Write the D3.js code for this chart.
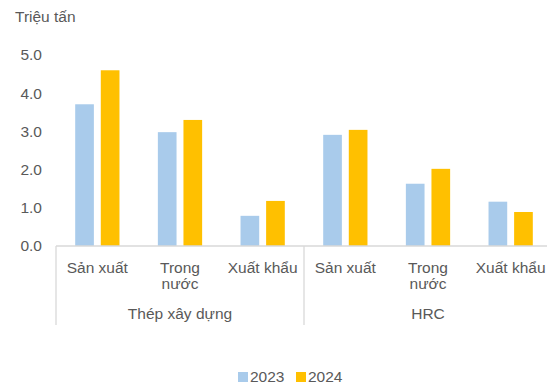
<!DOCTYPE html>
<html>
<head>
<meta charset="utf-8">
<script src="https://cdn.jsdelivr.net/npm/d3@7"></script>
<style>
  body { margin: 0; background: #fff; }
  text { font-family: "Liberation Sans", Arial, sans-serif; fill: #595959; }
</style>
</head>
<body>
<div id="chart"></div>
<script>
// --- Data ---
const groups = ["Thép xây dựng", "HRC"];
const categories = ["Sản xuất", "Trong nước", "Xuất khẩu"];
const series = ["2023", "2024"];
const values2023 = [3.71, 2.98, 0.79, 2.91, 1.63, 1.16];
const values2024 = [4.60, 3.30, 1.18, 3.04, 2.02, 0.89];
const yTicks = [0, 1, 2, 3, 4, 5];

const width = 547, height = 387;
const colors = { "2023": "#A9CBEB", "2024": "#FFC000" };
const fontSize = "15.5px";

const svg = d3.select("#chart").append("svg")
    .attr("width", width)
    .attr("height", height);

// x positions: one band per (group, category)
const keys = [];
groups.forEach((g, gi) => categories.forEach((c, ci) => keys.push(gi * categories.length + ci)));

const x0 = d3.scaleBand().domain(keys).range([56, 552]).paddingInner(0).paddingOuter(0);
const x1 = d3.scaleBand().domain(series).range([0, x0.bandwidth()]).paddingInner(0.27).paddingOuter(0.75);
const y = d3.scaleLinear().domain([0, 5]).range([246, 55]);

// y tick labels (no gridlines)
svg.append("g").selectAll("text")
    .data(yTicks)
    .join("text")
    .attr("x", 42)
    .attr("y", d => y(d))
    .attr("dy", "0.35em")
    .attr("text-anchor", "end")
    .style("font-size", fontSize)
    .text(d => d.toFixed(1));

// axis title
svg.append("text")
    .attr("x", 15)
    .attr("y", 22)
    .style("font-size", fontSize)
    .text("Triệu tấn");

// bars
const rows = keys.map(k => ({ k, vals: [["2023", values2023[k]], ["2024", values2024[k]]] }));
svg.append("g").selectAll("g")
    .data(rows)
    .join("g")
    .attr("transform", d => `translate(${x0(d.k)},0)`)
    .selectAll("rect")
    .data(d => d.vals)
    .join("rect")
    .attr("x", d => x1(d[0]))
    .attr("width", x1.bandwidth())
    .attr("y", d => y(d[1]))
    .attr("height", d => y(0) - y(d[1]))
    .attr("fill", d => colors[d[0]]);

// x axis line
const axisColor = "#d9d9d9";
svg.append("line")
    .attr("x1", x0.range()[0]).attr("x2", x0.range()[1])
    .attr("y1", y(0)).attr("y2", y(0))
    .attr("stroke", axisColor).attr("stroke-width", 1.3);

// group separators
const nCat = categories.length;
const seps = d3.range(groups.length + 1).map(i => i * nCat);
svg.append("g").selectAll("line")
    .data(seps)
    .join("line")
    .attr("x1", i => i < keys.length ? x0(i) : x0.range()[1])
    .attr("x2", i => i < keys.length ? x0(i) : x0.range()[1])
    .attr("y1", y(0)).attr("y2", 325)
    .attr("stroke", axisColor).attr("stroke-width", 1.3);

// category labels (wrapped)
const wrap = { "Trong nước": ["Trong", "nước"] };
const catLabels = svg.append("g").selectAll("text")
    .data(keys)
    .join("text")
    .attr("text-anchor", "middle")
    .attr("x", k => x0(k) + x0.bandwidth() / 2)
    .attr("y", 273)
    .style("font-size", fontSize);
catLabels.each(function (k) {
    const name = categories[k % nCat];
    const lines = wrap[name] || [name];
    const t = d3.select(this);
    lines.forEach((ln, i) => {
        t.append("tspan")
            .attr("x", x0(k) + x0.bandwidth() / 2)
            .attr("dy", i === 0 ? 0 : 16)
            .text(ln);
    });
});

// group labels
svg.append("g").selectAll("text")
    .data(groups)
    .join("text")
    .attr("text-anchor", "middle")
    .attr("x", (g, gi) => (x0(gi * nCat) + x0(gi * nCat + nCat - 1) + x0.bandwidth()) / 2)
    .attr("y", 319)
    .style("font-size", fontSize)
    .text(d => d);

// legend
const legend = svg.append("g").attr("transform", "translate(238,377)");
const legendItems = legend.selectAll("g")
    .data(series)
    .join("g")
    .attr("transform", (d, i) => `translate(${i * 58},0)`);
legendItems.append("rect")
    .attr("x", 0).attr("y", -5)
    .attr("width", 10).attr("height", 10)
    .attr("fill", d => colors[d]);
legendItems.append("text")
    .attr("x", 12)
    .attr("dy", "0.35em")
    .style("font-size", fontSize)
    .text(d => d);
</script>
</body>
</html>
